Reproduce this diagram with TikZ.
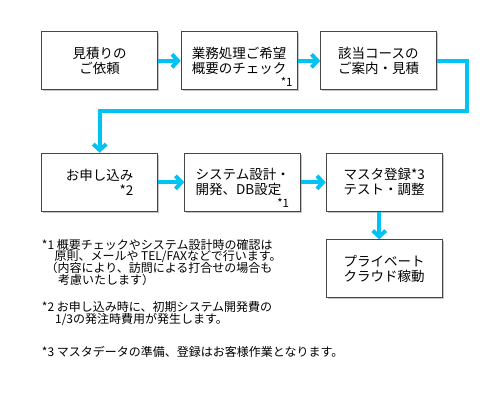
\documentclass[tikz,border=0pt]{standalone}
\usepackage{fontspec}
\setmainfont{Noto Sans CJK JP}
\usetikzlibrary{arrows.meta,positioning,shadows}
\definecolor{cFlow}{RGB}{0,195,245}
\definecolor{cEdge}{RGB}{70,70,70}
\lineskiplimit=-20pt
\tikzset{
  flowbox/.style={rectangle,draw=cEdge,line width=1pt,fill=white,
                  minimum width=116pt,minimum height=58pt,align=left,
                  font=\fontsize{13.5pt}{15pt}\selectfont,
                  drop shadow={shadow xshift=1.5pt,shadow yshift=-1.5pt,
                               fill=black!45}},
  notetext/.style={anchor=north west,inner sep=0pt,align=left,
                   font=\fontsize{12pt}{11.6pt}\selectfont},
  starmark/.style={anchor=south east,inner sep=0pt,
                   font=\fontsize{11.5pt}{12pt}\selectfont},
  flowarr/.style={-{Straight Barb[length=6pt,width=13pt]},
                  line width=4pt,color=cFlow}
}
\begin{document}
\begin{tikzpicture}[x=1pt,y=1pt,node distance=22.5pt]

  \useasboundingbox (0,0) rectangle (500,-400);

  \node[flowbox,align=center] (req) at (99.7,-60.8) {見積りの\\ご依頼};
  \node[flowbox,right=of req,
        label={[starmark,xshift=-5pt,yshift=4pt]south east:*1}] (chk)
      {業務処理ご希望\\概要のチェック};
  \node[flowbox,right=of chk] (est) {該当コースの\\ご案内・見積};

  \node[flowbox,align=right,below=62.5pt of req] (apply) {お申し込み\\*2};
  \node[flowbox,right=26pt of apply,
        label={[starmark,xshift=-12pt,yshift=4pt]south east:*1}] (dev)
      {システム設計・\\開発、DB設定};
  \node[flowbox,right=24.5pt of dev] (mst) {マスタ登録*3\\テスト・調整};
  \node[flowbox,below=27.5pt of mst] (cloud) {プライベート\\クラウド稼動};

  \node[notetext] (note1) at (41.7,-239)
      {*1 概要チェックやシステム設計時の確認は\\
       \hspace*{1.05em}原則、メールや TEL/FAXなどで行います。\\
       \hspace*{0.3em}（内容により、訪問による打合せの場合も\\
       \hspace*{1.35em}考慮いたします）};
  \node[notetext] (note2) at (41.7,-301.3)
      {*2 お申し込み時に、初期システム開発費の\\
       \hspace*{1.1em}1/3の発注時費用が発生します。};
  \node[notetext] (note3) at (41.7,-345.7)
      {*3 マスタデータの準備、登録はお客様作業となります。};

  \foreach \f/\t in {req/chk,chk/est,apply/dev,dev/mst}
    \draw[flowarr] (\f) -- (\t);

  \coordinate (turn) at (467,-111);
  \draw[flowarr] (est.east) -| (turn) -| (apply.north);
  \draw[flowarr] ([xshift=-5pt]mst.south) -- ([xshift=-5pt]cloud.north);

\end{tikzpicture}
\end{document}
